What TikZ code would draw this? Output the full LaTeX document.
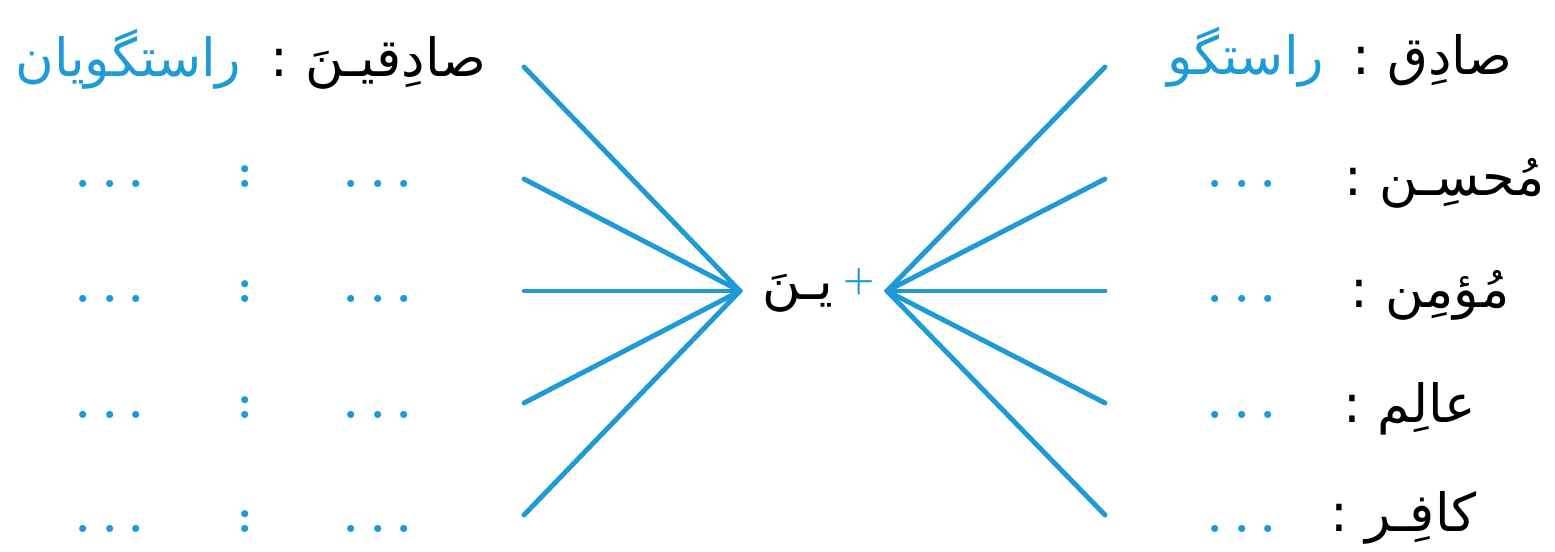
\documentclass[tikz,border=0pt]{standalone}
\usepackage{fontspec}
\usepackage{xcolor}
\usepackage{tikz}
\usetikzlibrary{positioning}
\newfontfamily\arabicfont[Script=Arabic]{DejaVu Sans}
\TeXXeTstate=1
\definecolor{BookBlue}{RGB}{30,155,215}
\newcommand{\tridots}{.\kern3.2pt.\kern3.2pt.}

\begin{document}
\begin{tikzpicture}[
    fan/.style={line width=1.4pt, BookBlue, line cap=round},
    ar/.style={font=\arabicfont\fontsize{15}{18}\selectfont,
               inner sep=0pt, anchor=base east},
    dots/.style={font=\bfseries\fontsize{14}{16}\selectfont, text=BookBlue,
                 inner sep=0pt, anchor=base}
  ]
  \useasboundingbox (0,0) rectangle (15.55,5.52);

  % rays meeting at the two hubs
  \coordinate (lhub) at (7.40,2.61);
  \coordinate (rhub) at (8.87,2.61);
  \foreach \i/\y in {1/4.85, 2/3.73, 3/2.61, 4/1.49, 5/0.37} {
    \coordinate (l\i) at (5.24,\y);
    \coordinate (r\i) at (11.05,\y);
    \draw[fan] (l\i) -- (lhub);
    \draw[fan] (r\i) -- (rhub);
  }

  % centre: suffix and plus
  \node[ar, anchor=base] (suffix) at (7.98,2.52) {\arabicfont\beginR یـنَ\endR};
  \node[dots, font=\bfseries\fontsize{10}{12}\selectfont] (plus) at (8.59,2.61) {+};

  % right column: singular words
  \node[ar] (sing1) at (15.13,4.77) {\arabicfont\beginR صادِق :\endR};
  \node[ar, text=BookBlue, base left=0.27 of sing1] (sing1b) {\arabicfont\beginR راستگو\endR};
  \node[ar] (sing2) at (15.45,3.56) {\arabicfont\beginR مُحسِـن :\endR};
  \node[ar] (sing3) at (15.10,2.44) {\arabicfont\beginR مُؤمِن :\endR};
  \node[ar] (sing4) at (14.77,1.29) {\arabicfont\beginR عالِم :\endR};
  \node[ar] (sing5) at (14.77,0.20) {\arabicfont\beginR کافِـر :\endR};

  % left column: plural words
  \node[ar] (plur1) at (4.87,4.75) {\arabicfont\beginR صادِقیـنَ :\endR};
  \node[ar, text=BookBlue, base left=0.28 of plur1] (plur1b) {\arabicfont\beginR راستگویان\endR};

  % blanks to fill in
  \foreach \i/\y in {2/3.64, 3/2.49, 4/1.33, 5/0.19} {
    \node[dots] (rd\i) at (12.42,\y) {\tridots};
    \node[dots] (la\i) at (1.10,\y) {\tridots};
    \node[dots] (lc\i) at (2.45,\y) {:};
    \node[dots] (lb\i) at (3.78,\y) {\tridots};
  }
\end{tikzpicture}
\end{document}
